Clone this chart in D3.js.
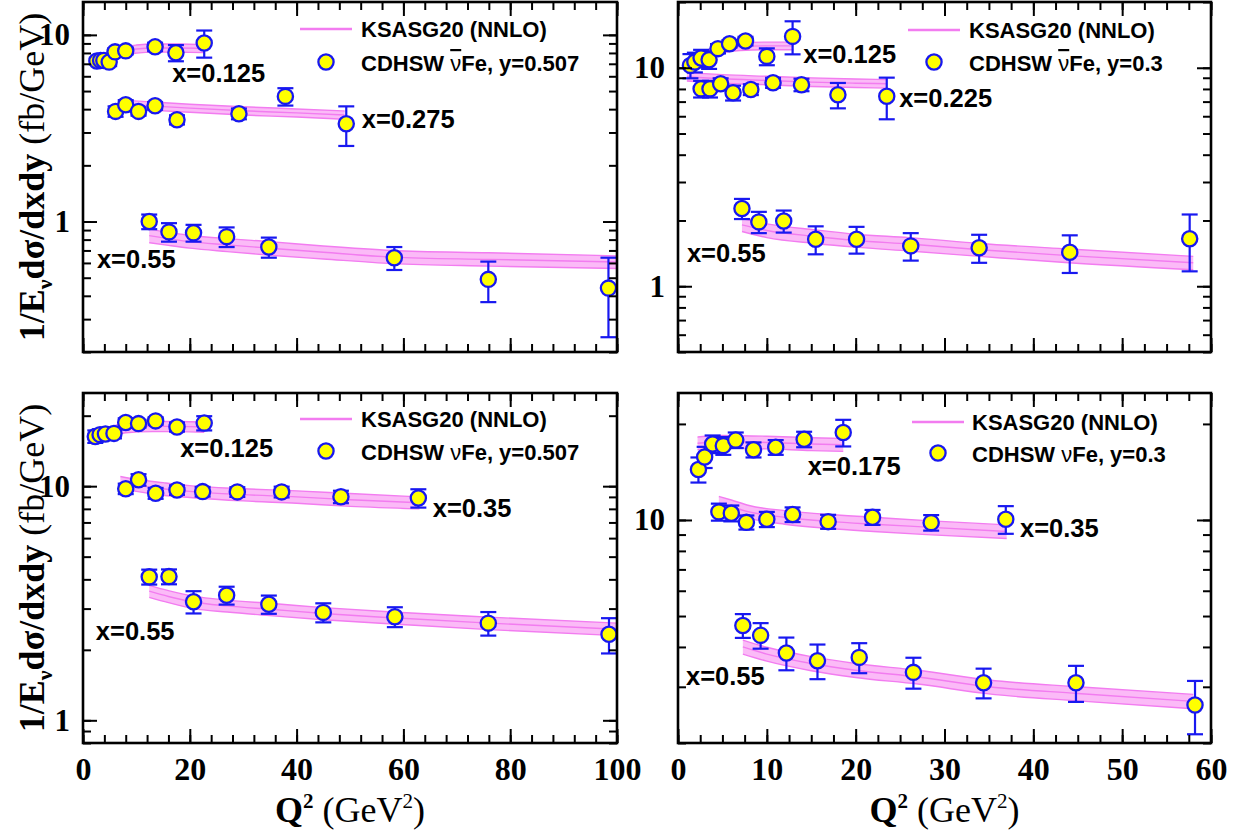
<!DOCTYPE html>
<html lang="en">
<head>
<meta charset="UTF-8">
<title>CDHSW Fe cross sections vs KSASG20</title>
<script src="https://d3js.org/d3.v7.min.js"></script>
<style>
  body { margin: 0; background: #fff; }
  svg { display: block; }
  .serif { font-family: "Liberation Serif", "Times New Roman", serif; }
  .sans { font-family: "Liberation Sans", Arial, sans-serif; font-weight: bold; }
</style>
</head>
<body>
<svg id="chart" width="1247" height="837"></svg>
<script>
// ---- data: CDHSW points (Q^2 in GeV^2, value, error) ----
// top-left: anti-neutrino Fe, y=0.507
var tlQ125 = [2.6, 3.3, 3.9, 4.9, 6.0, 8.0, 13.5, 17.4, 22.7];
var tlV125 = [7.25, 7.3, 7.3, 7.15, 8.11, 8.21, 8.63, 8.02, 9.05];
var tlE125 = [0.3, 0.3, 0.3, 0.35, 0.35, 0.35, 0.45, 0.8, 1.5];
var tlQ275 = [6.1, 8.0, 10.4, 13.5, 17.6, 29.2, 37.9, 49.3];
var tlV275 = [3.89, 4.22, 3.89, 4.17, 3.51, 3.78, 4.68, 3.34];
var tlE275 = [0.25, 0.25, 0.2, 0.2, 0.2, 0.25, 0.5, 0.8];
var tlQ55 = [12.4, 16.1, 20.7, 26.9, 34.8, 58.3, 75.9, 98.4];
var tlV55 = [1.0, 0.88, 0.87, 0.83, 0.73, 0.64, 0.49, 0.44];
var tlE55 = [0.09, 0.1, 0.09, 0.1, 0.09, 0.09, 0.12, 0.2];

// top-right: anti-neutrino Fe, y=0.3
var trQ125 = [1.4, 1.9, 2.6, 3.5, 4.5, 5.8, 7.6, 10.0, 12.9];
var trV125 = [10.25, 10.62, 11.08, 10.88, 12.23, 12.88, 13.26, 11.27, 13.92];
var trE125 = [1.3, 1.1, 1.0, 1.0, 0.6, 0.5, 0.6, 1.0, 2.4];
var trQ225 = [2.6, 3.6, 4.8, 6.2, 8.2, 10.7, 13.9, 18.0, 23.5];
var trV225 = [8.01, 8.01, 8.45, 7.68, 7.95, 8.54, 8.36, 7.52, 7.41];
var trE225 = [0.7, 0.7, 0.5, 0.6, 0.45, 0.45, 0.55, 1.0, 1.6];
var trQ55 = [7.2, 9.1, 11.9, 15.5, 20.1, 26.2, 33.9, 44.1, 57.6];
var trV55 = [2.27, 1.97, 1.99, 1.64, 1.64, 1.53, 1.5, 1.43, 1.65];
var trE55 = [0.24, 0.22, 0.23, 0.24, 0.23, 0.22, 0.22, 0.28, 0.48];

// bottom-left: neutrino Fe, y=0.507
var blQ125 = [2.3, 3.2, 4.2, 5.8, 8.0, 10.4, 13.6, 17.6, 22.7];
var blV125 = [16.3, 16.6, 16.7, 16.8, 18.7, 18.5, 19.0, 17.9, 18.6];
var blE125 = [1.0, 0.9, 0.8, 0.8, 0.8, 0.7, 0.7, 0.8, 1.3];
var blQ35 = [8.0, 10.4, 13.6, 17.6, 22.4, 28.9, 37.2, 48.3, 62.8];
var blV35 = [9.75, 10.65, 9.33, 9.63, 9.48, 9.45, 9.45, 9.01, 8.9];
var blE35 = [0.5, 0.6, 0.5, 0.45, 0.45, 0.45, 0.5, 0.55, 0.8];
var blQ55 = [12.4, 16.1, 20.7, 26.9, 34.8, 45.0, 58.4, 75.9, 98.5];
var blV55 = [4.1, 4.11, 3.21, 3.42, 3.13, 2.89, 2.77, 2.6, 2.33];
var blE55 = [0.3, 0.3, 0.35, 0.3, 0.28, 0.27, 0.27, 0.3, 0.4];

// bottom-right: neutrino Fe, y=0.3
var brQ175 = [2.3, 3.0, 3.9, 5.1, 6.5, 8.5, 11.0, 14.2, 18.6];
var brV175 = [14.4, 15.75, 17.3, 17.1, 17.8, 16.6, 16.9, 17.9, 18.8];
var brE175 = [1.3, 1.2, 1.1, 1.1, 1.0, 0.9, 0.9, 1.0, 1.8];
var brQ35 = [4.6, 6.0, 7.7, 10.0, 12.9, 16.9, 21.9, 28.5, 36.9];
var brV35 = [10.6, 10.5, 9.83, 10.05, 10.4, 9.88, 10.2, 9.81, 10.05];
var brE35 = [0.65, 0.6, 0.5, 0.55, 0.55, 0.5, 0.55, 0.55, 1.0];
var brQ55 = [7.3, 9.3, 12.2, 15.7, 20.4, 26.5, 34.4, 44.8, 58.2];
var brV55 = [4.67, 4.35, 3.83, 3.62, 3.71, 3.33, 3.09, 3.09, 2.63];
var brE55 = [0.4, 0.4, 0.45, 0.45, 0.4, 0.37, 0.33, 0.4, 0.5];

// ---- data: KSASG20 (NNLO) bands (Q^2 nodes, lower, central, upper) ----
var tlBandQ125 = [2.2, 4, 6, 8, 10, 13.5, 18, 22.7];
var tlLo125 = [6.98, 7.22, 7.55, 7.84, 7.98, 8.08, 8.08, 8.03];
var tlMid125 = [7.35, 7.6, 7.95, 8.25, 8.4, 8.5, 8.5, 8.45];
var tlHi125 = [7.72, 7.98, 8.35, 8.66, 8.82, 8.93, 8.93, 8.87];
var tlBandQ275 = [8, 13.5, 20, 30, 40, 49];
var tlLo275 = [4.04, 3.94, 3.85, 3.72, 3.63, 3.53];
var tlMid275 = [4.25, 4.15, 4.05, 3.92, 3.82, 3.72];
var tlHi275 = [4.46, 4.36, 4.25, 4.12, 4.01, 3.91];
var tlBandQ55 = [12.4, 16, 20, 27, 35, 45, 58, 76, 100];
var tlLo55 = [0.77, 0.745, 0.72, 0.69, 0.66, 0.63, 0.595, 0.577, 0.56];
var tlMid55 = [0.84, 0.81, 0.78, 0.75, 0.72, 0.685, 0.645, 0.627, 0.607];
var tlHi55 = [0.91, 0.875, 0.845, 0.81, 0.78, 0.74, 0.7, 0.68, 0.655];

var trBandQ125 = [1.4, 3, 5, 7, 10, 13];
var trLo125 = [10.2, 11.05, 11.7, 12.0, 12.1, 12.1];
var trMid125 = [10.6, 11.5, 12.2, 12.5, 12.6, 12.6];
var trHi125 = [11.0, 11.95, 12.7, 13.0, 13.1, 13.1];
var trBandQ225 = [1, 5, 10, 15, 20, 23.5];
var trLo225 = [8.7, 8.5, 8.36, 8.21, 8.12, 8.07];
var trMid225 = [9.1, 8.9, 8.75, 8.6, 8.5, 8.45];
var trHi225 = [9.5, 9.3, 9.14, 8.99, 8.88, 8.83];
var trBandQ55 = [7.2, 10, 15.5, 20, 26, 34, 44, 58];
var trLo55 = [1.78, 1.67, 1.57, 1.51, 1.45, 1.37, 1.28, 1.19];
var trMid55 = [1.91, 1.8, 1.69, 1.62, 1.56, 1.47, 1.38, 1.28];
var trHi55 = [2.04, 1.93, 1.81, 1.73, 1.67, 1.57, 1.48, 1.37];

var blBandQ125 = [2.5, 5, 8, 13, 18, 22.7];
var blLo125 = [15.8, 16.15, 16.9, 17.1, 17.1, 17.0];
var blMid125 = [16.6, 17.0, 17.8, 18.0, 18.0, 17.9];
var blHi125 = [17.4, 17.85, 18.7, 18.9, 18.9, 18.8];
var blBandQ35 = [7, 10, 15, 20, 30, 40, 50, 63];
var blLo35 = [9.8, 9.5, 9.15, 8.95, 8.65, 8.45, 8.2, 8.0];
var blMid35 = [10.4, 10.1, 9.75, 9.5, 9.2, 9.0, 8.75, 8.5];
var blHi35 = [11.0, 10.7, 10.35, 10.05, 9.75, 9.55, 9.3, 9.0];
var blBandQ55 = [12.4, 16, 20.7, 27, 35, 45, 58, 76, 100];
var blLo55 = [3.35, 3.18, 3.0, 2.9, 2.8, 2.69, 2.58, 2.44, 2.3];
var blMid55 = [3.56, 3.38, 3.2, 3.08, 2.98, 2.86, 2.74, 2.6, 2.45];
var blHi55 = [3.77, 3.58, 3.39, 3.26, 3.16, 3.03, 2.9, 2.76, 2.6];

var brBandQ175 = [2.2, 5, 10, 15, 18.6];
var brLo175 = [16.6, 16.8, 16.7, 16.5, 16.4];
var brMid175 = [17.4, 17.6, 17.5, 17.3, 17.2];
var brHi175 = [18.2, 18.4, 18.3, 18.1, 18.0];
var brBandQ35 = [4.6, 6, 8, 12, 17, 22, 28, 37];
var brLo35 = [10.75, 10.45, 10.1, 9.7, 9.4, 9.2, 9.0, 8.75];
var brMid35 = [11.3, 11.0, 10.6, 10.2, 9.9, 9.7, 9.5, 9.2];
var brHi35 = [11.85, 11.55, 11.1, 10.7, 10.4, 10.2, 9.95, 9.65];
var brBandQ55 = [7.3, 10, 15, 20, 27, 35, 45, 58];
var brLo55 = [3.8, 3.61, 3.37, 3.21, 3.06, 2.85, 2.71, 2.56];
var brMid55 = [4.0, 3.8, 3.55, 3.38, 3.22, 3.0, 2.86, 2.7];
var brHi55 = [4.2, 3.99, 3.73, 3.55, 3.38, 3.15, 3.0, 2.84];

// ---- text ----
var modelName = "KSASG20 (NNLO)";
var legendData = ["CDHSW |νbar|Fe, y=0.507", "CDHSW |νbar|Fe, y=0.3", "CDHSW |ν|Fe, y=0.507", "CDHSW |ν|Fe, y=0.3"];
var yTickLabels = [1, 10];

// ---- styling ----
var pinkLine = "#f27cf0", pinkFill = "#fbb3f6", blue = "#1818f0", yellow = "#ffff00";

function ser(q, v, e, bq, lo, mid, hi) {
  return { q: q, v: v, e: e, bq: bq, lo: lo, mid: mid, hi: hi };
}

// panel layout; label anchors are in data coordinates (Q^2, value)
var panels = [
  { x0: 83, x1: 617, y0: 2, y1: 352, xDom: [0, 100], yDom: [0.2, 15], xMajor: 20, xMinor: 4,
    xLabels: false, yTitle: true, legend: legendData[0], leg: { lx: 217, ly: 27, mx: 243, my: 60, tx: 278 },
    series: [ser(tlQ125, tlV125, tlE125, tlBandQ125, tlLo125, tlMid125, tlHi125),
             ser(tlQ275, tlV275, tlE275, tlBandQ275, tlLo275, tlMid275, tlHi275),
             ser(tlQ55, tlV55, tlE55, tlBandQ55, tlLo55, tlMid55, tlHi55)],
    labels: [["x=0.125", 16.7, 5.59], ["x=0.275", 52.2, 3.17], ["x=0.55", 2.6, 0.564]] },
  { x0: 678, x1: 1211, y0: 2, y1: 352, xDom: [0, 60], yDom: [0.5, 20], xMajor: 10, xMinor: 2.5,
    xLabels: false, yTitle: false, legend: legendData[1], leg: { lx: 230, ly: 28, mx: 256, my: 60, tx: 291 },
    series: [ser(trQ125, trV125, trE125, trBandQ125, trLo125, trMid125, trHi125),
             ser(trQ225, trV225, trE225, trBandQ225, trLo225, trMid225, trHi225),
             ser(trQ55, trV55, trE55, trBandQ55, trLo55, trMid55, trHi55)],
    labels: [["x=0.125", 14.1, 10.5], ["x=0.225", 24.9, 6.61], ["x=0.55", 1.0, 1.29]] },
  { x0: 83, x1: 617, y0: 393, y1: 743, xDom: [0, 100], yDom: [0.8, 25], xMajor: 20, xMinor: 4,
    xLabels: true, yTitle: true, legend: legendData[2], leg: { lx: 217, ly: 26, mx: 243, my: 58, tx: 278 },
    series: [ser(blQ125, blV125, blE125, blBandQ125, blLo125, blMid125, blHi125),
             ser(blQ35, blV35, blE35, blBandQ35, blLo35, blMid35, blHi35),
             ser(blQ55, blV55, blE55, blBandQ55, blLo55, blMid55, blHi55)],
    labels: [["x=0.125", 18.2, 13.3], ["x=0.35", 65.5, 7.38], ["x=0.55", 2.4, 2.2]] },
  { x0: 678, x1: 1211, y0: 393, y1: 743, xDom: [0, 60], yDom: [2, 25], xMajor: 10, xMinor: 2.5,
    xLabels: true, yTitle: false, legend: legendData[3], leg: { lx: 234, ly: 29, mx: 260, my: 60, tx: 294 },
    series: [ser(brQ175, brV175, brE175, brBandQ175, brLo175, brMid175, brHi175),
             ser(brQ35, brV35, brE35, brBandQ35, brLo35, brMid35, brHi35),
             ser(brQ55, brV55, brE55, brBandQ55, brLo55, brMid55, brHi55)],
    labels: [["x=0.175", 14.6, 13.8], ["x=0.35", 38.5, 8.84], ["x=0.55", 0.9, 3.04]] }
];

var svg = d3.select("#chart");
svg.append("rect").attr("width", 1247).attr("height", 837).attr("fill", "#fff");

function logTicks(dom) {
  var out = [];
  for (var k = -2; k <= 2; k++) {
    for (var m = 1; m <= 9; m++) {
      var t = m * Math.pow(10, k);
      if (t >= dom[0] * 0.999 && t <= dom[1] * 1.001) out.push(+t.toPrecision(3));
    }
  }
  return out;
}

function drawPanel(p, idx) {
  var x = d3.scaleLinear().domain(p.xDom).range([p.x0, p.x1]);
  var y = d3.scaleLog().domain(p.yDom).range([p.y1, p.y0]);
  var g = svg.append("g");

  // model bands
  p.series.forEach(function(s) {
    var pts = s.bq.map(function(q, i) { return { q: q, lo: s.lo[i], mid: s.mid[i], hi: s.hi[i] }; });
    var area = d3.area().x(function(d) { return x(d.q); })
      .y0(function(d) { return y(d.lo); }).y1(function(d) { return y(d.hi); })
      .curve(d3.curveMonotoneX);
    g.append("path").datum(pts).attr("d", area).attr("fill", pinkFill).attr("opacity", 0.9);
    ["lo", "mid", "hi"].forEach(function(k) {
      var line = d3.line().x(function(d) { return x(d.q); }).y(function(d) { return y(d[k]); })
        .curve(d3.curveMonotoneX);
      g.append("path").datum(pts).attr("d", line).attr("fill", "none")
        .attr("stroke", pinkLine).attr("stroke-width", 1.4);
    });
  });

  // data points with error bars
  p.series.forEach(function(s) {
    var pts = s.q.map(function(q, i) { return { q: q, v: s.v[i], e: s.e[i] }; });
    var eb = g.append("g").attr("stroke", blue).attr("stroke-width", 2.2).attr("fill", "none");
    eb.selectAll("line.v").data(pts).enter().append("line")
      .attr("x1", function(d) { return x(d.q); }).attr("x2", function(d) { return x(d.q); })
      .attr("y1", function(d) { return y(d.v + d.e); }).attr("y2", function(d) { return y(d.v - d.e); });
    [1, -1].forEach(function(sg) {
      eb.selectAll("line.c" + sg).data(pts).enter().append("line")
        .attr("x1", function(d) { return x(d.q) - 8; }).attr("x2", function(d) { return x(d.q) + 8; })
        .attr("y1", function(d) { return y(d.v + sg * d.e); }).attr("y2", function(d) { return y(d.v + sg * d.e); });
    });
    g.selectAll(null).data(pts).enter().append("circle")
      .attr("cx", function(d) { return x(d.q); }).attr("cy", function(d) { return y(d.v); })
      .attr("r", 7.6).attr("fill", yellow).attr("stroke", blue).attr("stroke-width", 2.3);
  });

  // curve labels
  g.selectAll(null).data(p.labels).enter().append("text")
    .attr("class", "sans").attr("font-size", 25.5)
    .attr("x", function(d) { return x(d[1]); }).attr("y", function(d) { return y(d[2]); })
    .text(function(d) { return d[0]; });

  // legend
  var L = p.leg;
  g.append("line").attr("x1", p.x0 + L.lx).attr("x2", p.x0 + L.lx + 52)
    .attr("y1", p.y0 + L.ly).attr("y2", p.y0 + L.ly).attr("stroke", pinkLine).attr("stroke-width", 2.5);
  g.append("text").attr("class", "sans").attr("font-size", 22)
    .attr("x", p.x0 + L.tx).attr("y", p.y0 + L.ly + 8).text(modelName);
  g.append("circle").attr("cx", p.x0 + L.mx).attr("cy", p.y0 + L.my).attr("r", 7.6)
    .attr("fill", yellow).attr("stroke", blue).attr("stroke-width", 2.3);
  var lt = g.append("text").attr("class", "sans").attr("font-size", 22)
    .attr("x", p.x0 + L.tx).attr("y", p.y0 + L.my + 9);
  p.legend.split("|").forEach(function(part) {
    var ts = lt.append("tspan");
    if (part === "νbar") {
      ts.text("ν").style("text-decoration", "overline").attr("font-weight", "normal");
    } else if (part === "ν") {
      ts.text("ν").attr("font-weight", "normal");
    } else {
      ts.text(part);
    }
  });

  // axes: inward ticks on all four sides
  var xMinorVals = d3.range(p.xDom[0], p.xDom[1] + 0.001, p.xMinor);
  var xMajorVals = d3.range(p.xDom[0], p.xDom[1] + 0.001, p.xMajor);
  var yAll = logTicks(p.yDom);
  var yMajor = yAll.filter(function(t) { return Math.abs(Math.log10(t) - Math.round(Math.log10(t))) < 1e-6; });

  function styleAxis(sel) {
    sel.select(".domain").remove();
    sel.selectAll("line").attr("stroke", "#000").attr("stroke-width", 2);
  }
  [[d3.axisBottom, p.y1], [d3.axisTop, p.y0]].forEach(function(a) {
    g.append("g").attr("transform", "translate(0," + a[1] + ")")
      .call(a[0](x).tickValues(xMinorVals).tickSize(-8).tickFormat("")).call(styleAxis);
    g.append("g").attr("transform", "translate(0," + a[1] + ")")
      .call(a[0](x).tickValues(xMajorVals).tickSize(-14).tickFormat("")).call(styleAxis);
  });
  [[d3.axisLeft, p.x0], [d3.axisRight, p.x1]].forEach(function(a) {
    g.append("g").attr("transform", "translate(" + a[1] + ",0)")
      .call(a[0](y).tickValues(yAll).tickSize(-8).tickFormat("")).call(styleAxis);
    g.append("g").attr("transform", "translate(" + a[1] + ",0)")
      .call(a[0](y).tickValues(yMajor).tickSize(-14).tickFormat("")).call(styleAxis);
  });

  // tick labels
  var yl = g.append("g").attr("transform", "translate(" + p.x0 + ",0)")
    .call(d3.axisLeft(y).tickValues(yTickLabels.filter(function(t) { return t >= p.yDom[0] && t <= p.yDom[1]; }))
      .tickSize(0).tickPadding(13).tickFormat(d3.format("d")));
  yl.select(".domain").remove();
  yl.selectAll("text").attr("class", "serif").attr("font-size", 31).attr("font-weight", "bold").attr("fill", "#000");

  if (p.xLabels) {
    var xl = g.append("g").attr("transform", "translate(0," + p.y1 + ")")
      .call(d3.axisBottom(x).tickValues(xMajorVals).tickSize(0).tickPadding(14).tickFormat(d3.format("d")));
    xl.select(".domain").remove();
    xl.selectAll("text").attr("class", "serif").attr("font-size", 32).attr("font-weight", "bold").attr("fill", "#000");

    var xt = g.append("text").attr("class", "serif").attr("font-size", 36)
      .attr("text-anchor", "middle").attr("x", (p.x0 + p.x1) / 2).attr("y", 822);
    xt.append("tspan").attr("font-weight", "bold").text("Q");
    xt.append("tspan").attr("font-weight", "bold").attr("font-size", 21).attr("dy", -14).text("2");
    xt.append("tspan").attr("dy", 14).text(" (GeV");
    xt.append("tspan").attr("font-size", 21).attr("dy", -14).text("2");
    xt.append("tspan").attr("dy", 14).text(")");
  }

  if (p.yTitle) {
    var yt = g.append("text").attr("class", "serif").attr("font-size", 36)
      .attr("text-anchor", "middle")
      .attr("transform", "translate(44," + ((p.y0 + p.y1) / 2) + ") rotate(-90)");
    yt.append("tspan").attr("font-weight", "bold").text("1/E");
    yt.append("tspan").attr("font-weight", "bold").attr("font-size", 22).attr("dy", 8).text("ν");
    yt.append("tspan").attr("font-weight", "bold").attr("dy", -8).text("dσ/dxdy");
    yt.append("tspan").text(" (fb/GeV)");
  }

  // frame
  g.append("rect").attr("x", p.x0).attr("y", p.y0)
    .attr("width", p.x1 - p.x0).attr("height", p.y1 - p.y0)
    .attr("fill", "none").attr("stroke", "#000").attr("stroke-width", 2.6);
}

panels.forEach(drawPanel);
</script>
</body>
</html>
